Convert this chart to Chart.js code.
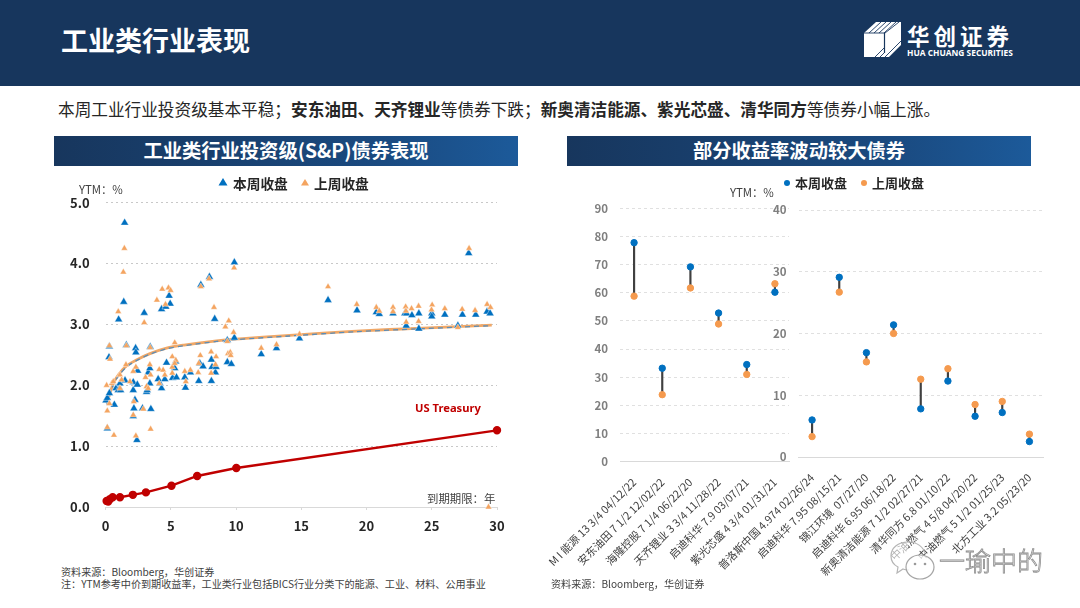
<!DOCTYPE html>
<html>
<head>
<meta charset="utf-8">
<script src="https://cdn.jsdelivr.net/npm/chart.js@4"></script>
<style>
  html, body { margin: 0; padding: 0; background: #fff; }
  body { width: 1080px; height: 608px; position: relative; overflow: hidden; font-family: "Noto Sans CJK SC", sans-serif; color: #262626; }
  .abs { position: absolute; white-space: nowrap; }
  #header { left: 0; top: 0; width: 1080px; height: 86px; background: #17365d; }
  .bar { height: 30px; line-height: 29px; text-align: center; color: #fff; font-weight: 700; font-size: 19.3px; background: linear-gradient(90deg, #17365d 0%, #1a4a80 70%, #1c5a9a 100%); }
  .note { font-size: 10.1px; color: #404040; line-height: 12px; }
  .axisnote { font-size: 11.4px; color: #404040; }
  .legend { font-size: 13.7px; font-weight: 700; color: #262626; }
  canvas { position: absolute; }
</style>
</head>
<body>
<div class="abs" id="header"></div>
<div class="abs" style="left:61px;top:21px;font-size:27px;font-weight:700;color:#fff;line-height:38px">工业类行业表现</div>
<svg class="abs" style="left:862px;top:20px" width="42" height="40" viewBox="0 0 42 40">
  <polygon points="2,13 14,2 39,2 39,25 27,37 2,37" fill="#fff"/>
  <g stroke="#17365d" stroke-width="0.9">
    <line x1="7" y1="13" x2="19" y2="2"/><line x1="12" y1="13" x2="24" y2="2"/><line x1="17" y1="13" x2="29" y2="2"/><line x1="22" y1="13" x2="34" y2="2"/>
    <line x1="23" y1="37" x2="39" y2="21"/><line x1="18" y1="37" x2="22" y2="33"/><line x1="13" y1="37" x2="22" y2="28"/>
    <line x1="2" y1="13" x2="23" y2="13"/><line x1="22.5" y1="13" x2="22.5" y2="33" stroke-width="1.2"/><line x1="23" y1="13" x2="37" y2="2"/>
  </g>
</svg>
<div class="abs" style="left:907px;top:20px;font-size:22.5px;font-weight:700;color:#fff;line-height:30px;letter-spacing:4px">华创证券</div>
<div class="abs" style="left:907px;top:47px;font-size:8.4px;font-weight:700;color:#fff;line-height:12px;font-family:'Open Sans',sans-serif">HUA CHUANG SECURITIES</div>

<div class="abs" style="left:58px;top:97px;font-size:16.65px;line-height:24px;color:#262626">本周工业行业投资级基本平稳；<b>安东油田、天齐锂业</b>等债券下跌；<b>新奥清洁能源、紫光芯盛、清华同方</b>等债券小幅上涨。</div>

<div class="abs bar" style="left:54px;top:136px;width:464px">工业类行业投资级(S&amp;P)债券表现</div>
<div class="abs bar" style="left:567px;top:136px;width:464px">部分收益率波动较大债券</div>

<canvas id="scatterChart" style="left:54px;top:190px" width="464" height="347"></canvas>
<canvas id="leftChart" style="left:540px;top:195px" width="255" height="385"></canvas>
<canvas id="rightChart" style="left:700px;top:195px" width="360" height="385"></canvas>

<div class="abs axisnote" style="left:79px;top:181px">YTM：%</div>
<div class="abs axisnote" style="left:730px;top:184px">YTM：%</div>
<div class="abs axisnote" style="left:427px;top:490px">到期期限：年</div>
<div class="abs" style="left:415px;top:400px;font-size:11.2px;font-weight:700;color:#c00000;font-family:'Noto Sans',sans-serif">US Treasury</div>

<svg class="abs" style="left:218px;top:177px" width="10" height="10"><polygon points="5,1 9.5,8.5 0.5,8.5" fill="#0070c0"/></svg>
<div class="abs legend" style="left:233px;top:173px">本周收盘</div>
<svg class="abs" style="left:300px;top:177px" width="10" height="10"><polygon points="5,2 9,8.5 1,8.5" fill="#f4a460"/></svg>
<div class="abs legend" style="left:314px;top:173px">上周收盘</div>
<svg class="abs" style="left:782px;top:178px" width="10" height="10"><circle cx="5" cy="5" r="3" fill="#0070c0"/></svg>
<div class="abs legend" style="left:795px;top:173px;font-size:13px">本周收盘</div>
<svg class="abs" style="left:859px;top:178px" width="10" height="10"><circle cx="5" cy="5" r="3" fill="#f59a4e"/></svg>
<div class="abs legend" style="left:872px;top:173px;font-size:13px">上周收盘</div>

<div class="abs note" style="left:61px;top:566px">资料来源：Bloomberg，华创证券<br>注：YTM参考中价到期收益率，工业类行业包括BICS行业分类下的能源、工业、材料、公用事业</div>
<div class="abs note" style="left:551px;top:578px">资料来源：Bloomberg，华创证券</div>

<script>
// 工业类投资级散点 [期限, YTM]
const thisWeek = [
  [1.46,4.67],[1.39,3.37],[1.0,3.08],[2.96,3.19],[4.29,3.25],[4.62,3.29],[4.95,3.34],[4.87,3.47],[7.3,3.65],[7.96,3.78],
  [9.87,4.02],[8.36,3.09],[9.33,2.74],[9.87,2.78],[0.29,2.64],[1.59,2.66],[2.3,2.61],[3.42,2.63],[13.1,2.61],[14.86,2.77],
  [0.03,1.75],[0.13,1.79],[0.29,1.87],[0.26,2.46],[0.67,1.68],[0.8,1.95],[0.97,1.92],[1.15,1.92],[1.1,2.03],[1.49,2.08],
  [0.13,1.29],[2.32,2.54],[2.45,2.24],[2.12,2.05],[2.12,1.92],[2.43,2.01],[2.25,1.76],[2.17,1.62],[2.12,1.49],[2.83,1.62],
  [3.47,1.61],[2.4,1.10],[3.14,1.89],[3.19,1.92],[3.39,2.03],[3.27,2.21],[3.39,2.28],[4.16,2.03],[4.29,1.95],[4.03,2.1],
  [4.54,2.1],[4.67,2.37],[5.13,2.12],[5.43,2.13],[5.3,2.28],[5.38,2.39],[6.07,2.13],[6.12,1.96],[6.5,2.21],[7.14,2.07],
  [7.22,2.36],[7.47,2.31],[8.11,2.07],[8.11,2.42],[8.16,2.3],[8.42,2.21],[8.47,2.3],[9.33,2.38],[9.64,2.35],[11.93,2.51],
  [17.05,3.40],[19.27,3.23],[20.75,3.2],[20.98,3.17],[22.03,3.18],[22.94,3.18],[23.07,3.18],[23.04,2.98],[23.48,3.15],[24.01,3.18],
  [24.01,2.93],[25.0,3.18],[25.0,3.13],[26.0,3.16],[27.0,2.98],[27.35,3.16],[27.83,4.17],[28.37,3.16],[29.24,3.21],[29.47,3.18]
];
const lastWeek = [
  [1.44,4.25],[1.36,3.86],[0.97,3.21],[3.93,3.40],[4.34,3.58],[4.82,3.60],[4.98,3.56],[4.59,3.33],[2.96,3.03],[5.3,2.70],
  [7.3,3.62],[7.93,3.75],[9.85,3.93],[8.31,3.28],[9.44,3.06],[9.18,2.96],[9.81,2.87],[9.33,2.72],[13.1,2.67],[11.93,2.61],
  [0.29,2.65],[1.59,2.65],[3.42,2.62],[0.13,1.58],[0.29,1.70],[0.08,2.0],[0.47,2.03],[0.64,1.18],[0.13,1.31],[0.34,2.43],
  [1.56,2.34],[1.1,2.17],[0.59,2.06],[1.1,1.95],[1.23,2.09],[1.87,2.06],[2.12,2.23],[2.32,2.3],[2.17,1.73],[2.12,1.51],
  [2.32,1.17],[2.89,1.61],[3.45,1.28],[3.39,2.34],[3.06,2.13],[3.14,1.98],[3.27,1.95],[3.45,2.17],[4.11,2.26],[4.41,2.25],
  [4.11,2.03],[4.54,2.17],[5.11,2.47],[5.38,2.41],[5.11,2.3],[5.3,2.36],[5.11,2.2],[6.07,2.23],[6.15,2.06],[6.5,2.25],
  [7.1,2.21],[7.14,2.36],[7.26,2.49],[8.09,2.55],[8.09,2.2],[8.47,2.47],[8.42,2.34],[9.38,2.52],[9.56,2.54],[9.59,2.49],
  [14.86,2.84],[17.05,3.62],[19.25,3.33],[20.75,3.28],[20.98,3.22],[22.03,3.28],[22.03,3.21],[23,3.29],[23.02,3.22],[23.04,3.04],
  [23.45,3.26],[23.99,3.3],[23.99,3.05],[25.03,3.32],[24.98,3.24],[26,3.26],[27,2.95],[27.33,3.25],[27.86,4.25],[28.32,3.23],
  [29.24,3.33],[29.5,3.28],[29.35,0.0]
];
const curveThis = [[0.08,1.68],[0.34,1.85],[0.6,2.01],[0.98,2.15],[1.6,2.3],[2.4,2.41],[3.4,2.51],[4.67,2.6],[6,2.65],[8.5,2.72],[10,2.75],[14.1,2.81],[19.2,2.88],[24.3,2.93],[29.6,2.98]];
const curveLast = [[0.08,1.70],[0.34,1.87],[0.6,2.03],[0.98,2.17],[1.6,2.32],[2.4,2.42],[3.4,2.52],[4.67,2.61],[6,2.66],[8.5,2.73],[10,2.76],[14.1,2.82],[19.2,2.89],[24.3,2.94],[29.6,2.99]];
const treasury = [[0.08,0.10],[0.2,0.09],[0.34,0.13],[0.54,0.16],[1.1,0.16],[2.09,0.2],[3.09,0.24],[5.05,0.35],[7.02,0.51],[10.02,0.64],[30,1.26]];

// 波动较大债券
const leftBonds = ["M I 能源 13 3/4 04/12/22","安东油田 7 1/2 12/02/22","海隆控股 7 1/4 06/22/20","天齐锂业 3 3/4 11/28/22","启迪科华 7.9 03/07/21","紫光芯盛 4 3/4 01/31/21"];
const leftThis = [77.8,33.2,69.2,52.8,34.5,60.2];
const leftLast = [58.8,23.8,61.7,48.9,31.0,63.2];
const rightBonds = ["普洛斯中国 4.974 02/26/24","启迪科华 7.95 08/15/21","锦江环境  07/27/20","启迪科华 6.95 06/18/22","新奥清洁能源 7 1/2 02/27/21","清华同方 6.8 01/10/22","中油燃气 4 5/8 04/20/22","中油燃气 5 1/2 01/25/23","北方工业 3.2 05/23/20"];
const rightThis = [6.0,29.1,16.9,21.4,7.8,12.3,6.6,7.2,2.5];
const rightLast = [3.3,26.7,15.4,20.0,12.6,14.3,8.5,9.0,3.7];

const BLUE = "#0070c0", ORANGE = "#f4a460", DOT_ORANGE = "#f59a4e", RED = "#c00000";
const GRID = "#c8c8c8", AXIS = "#d9d9d9";
const FONT = '"Noto Sans CJK SC", sans-serif';
Chart.defaults.font.family = FONT;
Chart.defaults.animation = false;
Chart.defaults.responsive = false;

const toXY = (arr) => arr.map((p) => ({ x: p[0], y: p[1] }));

new Chart(document.getElementById("scatterChart"), {
  type: "scatter",
  data: {
    datasets: [
      { data: toXY(lastWeek), pointStyle: "triangle", pointRadius: 3.8, backgroundColor: ORANGE, borderColor: "#fff", borderWidth: 0.4, order: 1 },
      { data: toXY(thisWeek), pointStyle: "triangle", pointRadius: 4.6, backgroundColor: BLUE, borderColor: "#fff", borderWidth: 0.4, order: 2 },
      { type: "line", data: toXY(curveThis), borderColor: "#5b8db8", borderWidth: 1.3, borderDash: [5, 4], pointRadius: 0, tension: 0.3, order: 3 },
      { type: "line", data: toXY(curveLast), borderColor: "#f0a868", borderWidth: 2.8, pointRadius: 0, tension: 0.3, order: 4 },
      { type: "line", data: toXY(treasury), borderColor: RED, backgroundColor: RED, borderWidth: 2.4, pointRadius: 3, order: 5 },
    ],
  },
  options: {
    clip: false,
    layout: { padding: { top: 12.7, right: 21, left: 0, bottom: 0 } },
    plugins: { legend: { display: false }, tooltip: { enabled: false } },
    scales: {
      x: {
        type: "linear", min: 0, max: 30,
        ticks: { stepSize: 5, color: "#262626", font: { size: 13, weight: 700 }, padding: 8, maxRotation: 0 },
        grid: { drawOnChartArea: false, tickLength: 3, color: AXIS },
        border: { color: AXIS },
        afterFit: (a) => { a.height = 30; a.paddingLeft = 0; a.paddingRight = 0; },
      },
      y: {
        min: 0, max: 5,
        ticks: { stepSize: 1, color: "#262626", font: { size: 13, weight: 700 }, padding: 16, callback: (v) => v.toFixed(1) },
        grid: { color: GRID, drawTicks: false },
        border: { display: false, dash: [2, 3] },
        afterFit: (a) => { a.width = 51.6; a.paddingTop = 0; a.paddingBottom = 0; },
      },
    },
  },
});

function bondChart(id, labels, now, prev, maxY, yWidth, rightPad, zeroY, topPad) {
  new Chart(document.getElementById(id), {
    type: "bar",
    data: {
      labels: labels,
      datasets: [
        { type: "line", data: now, showLine: false, pointRadius: 3.2, backgroundColor: BLUE, borderColor: BLUE, order: 1 },
        { type: "line", data: prev, showLine: false, pointRadius: 3.2, backgroundColor: DOT_ORANGE, borderColor: DOT_ORANGE, order: 2 },
        { data: now.map((v, i) => [Math.min(v, prev[i]), Math.max(v, prev[i])]), backgroundColor: "#404040", barThickness: 1.5, order: 3 },
      ],
    },
    options: {
      layout: { padding: { top: topPad, right: rightPad, left: 0, bottom: 0 } },
      plugins: { legend: { display: false }, tooltip: { enabled: false } },
      scales: {
        x: {
          ticks: { color: "#404040", font: { size: 10.8 }, minRotation: 45, maxRotation: 45, autoSkip: false, padding: 6 },
          grid: { display: false },
          border: { color: AXIS },
          afterFit: (a) => { a.height = 385 - zeroY; a.paddingLeft = 0; a.paddingRight = 0; },
        },
        y: {
          min: 0, max: maxY,
          ticks: { stepSize: 10, color: "#7f7f7f", font: { size: 11.5, weight: 700 }, padding: 12 },
          grid: { color: "#e0e0e0", drawTicks: false },
          border: { display: false, dash: [3, 3] },
          afterFit: (a) => { a.width = yWidth; a.paddingTop = 0; a.paddingBottom = 0; },
        },
      },
    },
  });
}
bondChart("leftChart", leftBonds, leftThis, leftLast, 90, 80, 6, 266.7, 13.3);
bondChart("rightChart", rightBonds, rightThis, rightLast, 40, 98.5, 17, 262, 15);
</script>

<svg class="abs" style="left:888px;top:540px" width="50" height="44" viewBox="0 0 50 44">
  <path d="M20 2C10 2 3 8 3 16c0 5 3 9 7 11l-1 6 6-4c2 1 4 1 6 1" fill="rgba(255,255,255,.6)" stroke="#b5b5b5" stroke-width="1.2"/>
  <path d="M20 2c9 0 16 5 17 12" fill="none" stroke="#b5b5b5" stroke-width="1.2"/>
  <ellipse cx="32" cy="27" rx="14" ry="12" fill="rgba(255,255,255,.75)" stroke="#a5a5a5" stroke-width="1.2"/>
  <circle cx="27" cy="24" r="1.3" fill="#999"/><circle cx="37" cy="24" r="1.3" fill="#999"/>
</svg>
<div class="abs" style="left:939px;top:542px;font-size:26px;line-height:36px;color:#fff;-webkit-text-stroke:0.8px #8c8c8c;font-weight:300">一瑜中的</div>
</body>
</html>
